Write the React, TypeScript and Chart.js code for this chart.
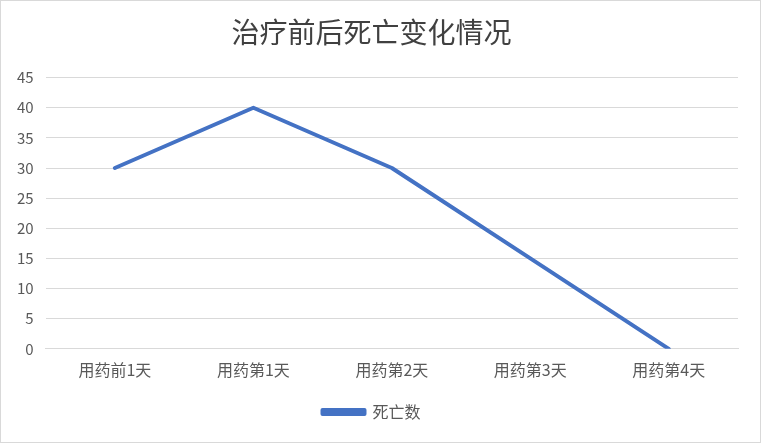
import React, { useEffect, useRef } from "react";
import { Chart, registerables } from "chart.js";

Chart.register(...registerables);

const titleText = "治疗前后死亡变化情况";
const categories = ["用药前1天", "用药第1天", "用药第2天", "用药第3天", "用药第4天"];
const seriesName = "死亡数";
const deaths = [30, 40, 30, 15, 0];
const yMin = 0;
const yMax = 45;
const yStep = 5;

const FONT = "'Noto Sans CJK SC', 'Noto Sans', sans-serif";

export default function App() {
  const ref = useRef<HTMLCanvasElement | null>(null);

  useEffect(() => {
    document.body.style.margin = "0";
    const ctx = ref.current;
    if (!ctx) return;
    const chart = new Chart(ctx, {
      type: "line",
      data: {
        labels: categories,
        datasets: [
          {
            label: seriesName,
            data: deaths,
            borderColor: "#4472C4",
            backgroundColor: "#4472C4",
            borderWidth: 4,
            pointRadius: 0,
            pointHoverRadius: 0,
            tension: 0,
            borderCapStyle: "round",
            borderJoinStyle: "round",
          },
        ],
      },
      options: {
        responsive: false,
        animation: false,
        layout: { padding: { left: 4, right: 22, top: 11, bottom: 12 } },
        plugins: {
          title: {
            display: true,
            text: titleText,
            color: "#404040",
            font: { family: FONT, size: 28, weight: "normal" },
            padding: { top: 4, bottom: 28 },
          },
          legend: {
            position: "bottom",
            labels: {
              color: "#595959",
              font: { family: FONT, size: 16 },
              boxWidth: 42,
              boxHeight: 4,
              padding: 12,
            },
          },
          tooltip: { enabled: false },
        },
        scales: {
          x: {
            offset: true,
            grid: { display: false },
            border: { display: true, color: "#d9d9d9", width: 1 },
            afterFit: (scale: any) => {
              scale.height += 8;
            },
            ticks: {
              color: "#595959",
              font: { family: FONT, size: 16 },
              padding: 4,
              maxRotation: 0,
              autoSkip: false,
            },
          },
          y: {
            min: yMin,
            max: yMax,
            grid: { color: "#d9d9d9", drawTicks: false },
            border: { display: false },
            ticks: {
              stepSize: yStep,
              color: "#595959",
              font: { family: FONT, size: 15 },
              padding: 12,
            },
          },
        },
      },
    });
    return () => chart.destroy();
  }, []);

  return (
    <div
      style={{
        position: "absolute",
        left: 0,
        top: 0,
        width: 761,
        height: 443,
        border: "1px solid #d9d9d9",
        boxSizing: "border-box",
        background: "#fff",
        overflow: "hidden",
      }}
    >
      <canvas ref={ref} width={759} height={441} style={{ display: "block" }} />
    </div>
  );
}
